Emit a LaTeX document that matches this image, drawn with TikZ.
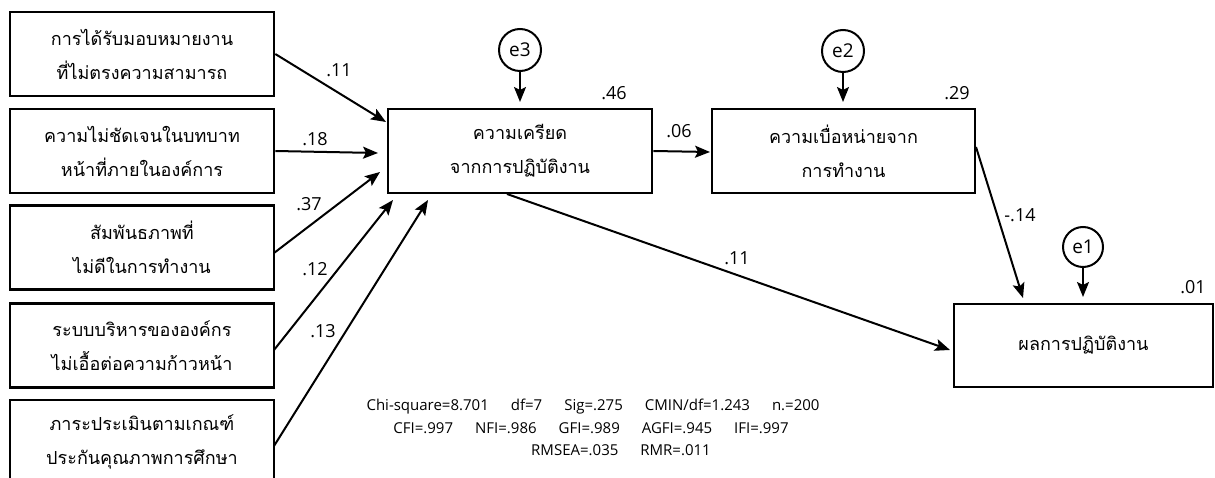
\documentclass[tikz,border=0pt]{standalone}
\usepackage{fontspec}
\setmainfont{Open Sans}
\newfontfamily\thaifont[Script=Thai]{Loma}
\usetikzlibrary{arrows.meta,calc}
\begin{document}
\begin{tikzpicture}[x=1pt,y=-1pt,
  box/.style={draw,line width=2.6pt,minimum width=264pt,minimum height=84pt,inner sep=0pt,align=center,font=\thaifont\fontsize{18}{34}\selectfont},
  err/.style={draw,circle,line width=2pt,minimum size=42pt,inner sep=0pt,font=\fontsize{19}{19}\selectfont},
  arr/.style={line width=2pt,-{Stealth[length=15pt,width=12pt,inset=3pt]}},
  lab/.style={font=\fontsize{18}{18}\selectfont,inner sep=0pt},
  stat/.style={font=\fontsize{15}{15}\selectfont,inner sep=0pt},
]
\useasboundingbox (0,0) rectangle (1215,478);
% left boxes
\node[box] (b1) at (142,54) {การได้รับมอบหมายงาน\\ที่ไม่ตรงความสามารถ};
\node[box] (b2) at (142,151) {ความไม่ชัดเจนในบทบาท\\หน้าที่ภายในองค์การ};
\node[box] (b3) at (142,247.5) {สัมพันธภาพที่\\ไม่ดีในการทำงาน};
\node[box] (b4) at (142,345.5) {ระบบบริหารขององค์กร\\ไม่เอื้อต่อความก้าวหน้า};
\node[box] (b5) at (142,442) {ภาระประเมินตามเกณฑ์\\ประกันคุณภาพการศึกษา};
% main boxes
\node[box] (stress) at (520,151) {ความเครียด\\จากการปฏิบัติงาน};
\node[box,minimum width=263pt] (burn) at (843.5,151) {ความเบื่อหน่ายจาก\\การทำงาน};
\node[box,minimum width=259pt,minimum height=83pt] (perf) at (1083.5,345.5) {ผลการปฏิบัติงาน};
% errors
\node[err] (e3) at (520,50) {e3};
\node[err] (e2) at (843,51) {e2};
\node[err,minimum size=40pt] (e1) at (1083,247) {e1};
% tip coordinates
\coordinate (t1) at (386,122);
\coordinate (t2) at (378,153);
\coordinate (t3) at (380,172);
\coordinate (t4) at (393,200);
\coordinate (t5) at (428,200);
\coordinate (te3) at (520,102);
\coordinate (te2) at (843,102);
\coordinate (te1) at (1083,297);
\coordinate (tsb) at (710,152);
\coordinate (tsp) at (950,350);
\coordinate (tbp) at (1023,298);
\coordinate (s3) at (274,253);
\coordinate (s4) at (274,350);
\coordinate (s5) at (274,446);
\coordinate (ssp) at (507,194);
\coordinate (sbp) at (976,147);
% connectors
\draw[arr] (b1.east) -- (t1);
\draw[arr] (b2.east) -- (t2);
\draw[arr] (s3) -- (t3);
\draw[arr] (s4) -- (t4);
\draw[arr] (s5) -- (t5);
\draw[arr] (e3) -- (te3);
\draw[arr] (e2) -- (te2);
\draw[arr] (e1) -- (te1);
\draw[arr] (stress.east) -- (tsb);
\draw[arr] (ssp) -- (tsp);
\draw[arr] (sbp) -- (tbp);
% labels
\node[lab] (l1) at (339,70) {.11};
\node[lab] (l2) at (315,139) {.18};
\node[lab] (l3) at (309,204) {.37};
\node[lab] (l4) at (315,269) {.12};
\node[lab] (l5) at (323,331) {.13};
\node[lab] (l6) at (614,93) {.46};
\node[lab] (l7) at (679,131) {.06};
\node[lab] (l8) at (957,93) {.29};
\node[lab] (l9) at (737,258) {.11};
\node[lab] (l10) at (1020,215) {-.14};
\node[lab] (l11) at (1193,287) {.01};
% stats
\node[stat] (st1) at (593,407) {Chi-square=8.701\hspace{22pt}df=7\hspace{22pt}Sig=.275\hspace{22pt}CMIN/df=1.243\hspace{22pt}n.=200};
\node[stat] (st2) at (591,428) {CFI=.997\hspace{22pt}NFI=.986\hspace{22pt}GFI=.989\hspace{22pt}AGFI=.945\hspace{22pt}IFI=.997};
\node[stat] (st3) at (621,450) {RMSEA=.035\hspace{22pt}RMR=.011};
\end{tikzpicture}
\end{document}
